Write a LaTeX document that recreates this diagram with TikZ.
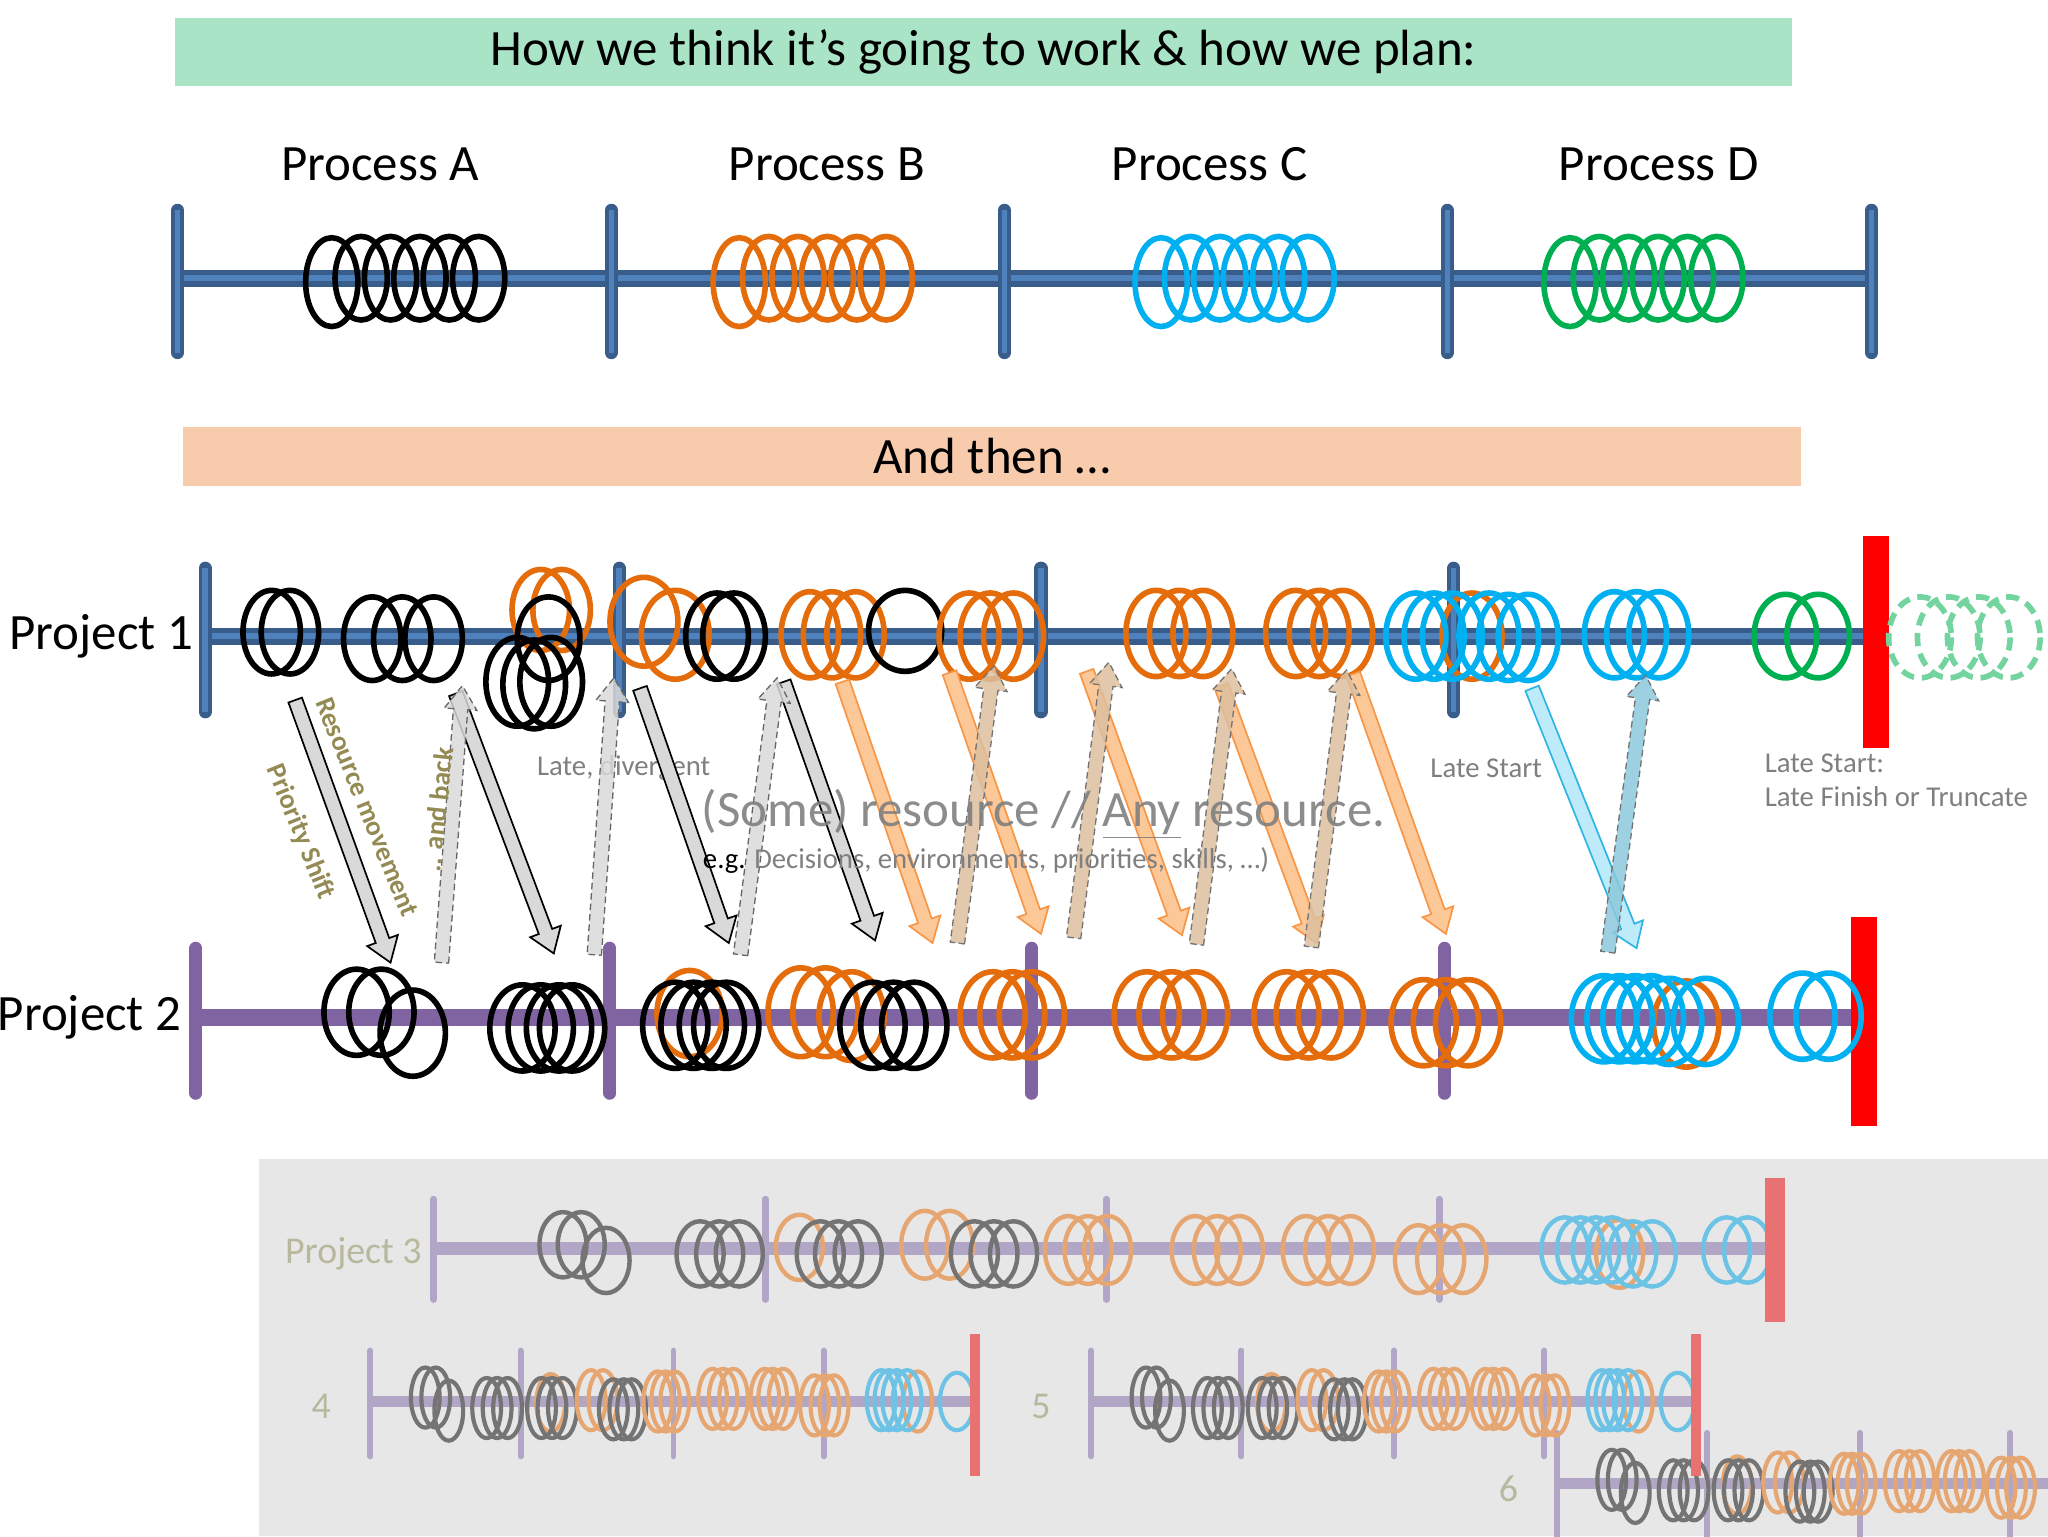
\documentclass[tikz,border=0pt]{standalone}
\usepackage{fontspec}
\setmainfont{Carlito}
\usepackage{tikz}
\usetikzlibrary{calc}
\definecolor{verdetitolo}{HTML}{A9E4C6}
\definecolor{pesca}{HTML}{F8CBAD}
\definecolor{bluasse}{HTML}{4F81BD}
\definecolor{bluscuro}{HTML}{385D8A}
\definecolor{viola}{HTML}{8064A2}
\definecolor{arancio}{HTML}{E46C0A}
\definecolor{azzurro}{HTML}{00B0F0}
\definecolor{verde}{HTML}{00B050}
\definecolor{rosso}{HTML}{FF0000}
\definecolor{oliva}{HTML}{948A54}
\definecolor{grigiotesto}{HTML}{7F7F7F}
\definecolor{grigiofreccia}{HTML}{D9D9D9}
\definecolor{aranciochiaro}{HTML}{FDC898}
\definecolor{aranciobordo}{HTML}{F79646}
\definecolor{sabbia}{HTML}{DDBF9F}
\definecolor{celeste}{HTML}{BEEBFA}
\definecolor{celestebordo}{HTML}{2FB5E5}
\definecolor{celestescuro}{HTML}{8CC8DC}
\definecolor{pannello}{HTML}{E8E7E8}
\definecolor{grigioanello}{HTML}{747474}
\definecolor{aranciosbiadito}{HTML}{E6A672}
\definecolor{azzurrosbiadito}{HTML}{6CC3E6}
\definecolor{violasbiadito}{HTML}{B1A6C6}
\definecolor{rossosbiadito}{HTML}{E87272}
\definecolor{testosbiadito}{HTML}{B7B89D}
\tikzset{
	% fascia colorata con titolo
	fascia/.style={inner sep=0pt, font=\fontsize{39}{46}\selectfont},
	% testi
	testo/.style={inner sep=0pt, font=\fontsize{39}{46}\selectfont},
	nota/.style={inner sep=0pt, text=grigiotesto, font=\fontsize{22}{26}\selectfont},
	etichetta/.style={inner sep=0pt, text=oliva, font=\bfseries\fontsize{21}{25}\selectfont},
	sbiadito/.style={inner sep=0pt, text=testosbiadito, font=\fontsize{29}{34}\selectfont},
	% assi dei progetti
	asse/.style={line width=13pt, bluscuro},
	assein/.style={line width=5pt, bluasse},
	tacca/.style={line width=10pt, bluscuro, line cap=round},
	taccain/.style={line width=4pt, bluasse},
	asseviola/.style={line width=13pt, viola},
	taccaviola/.style={line width=10pt, viola, line cap=round},
	fine/.style={line width=20pt, rosso},
	lineasbiadita/.style={line width=10pt, violasbiadito},
	taccasbiadita/.style={line width=5pt, violasbiadito, line cap=round},
	finesbiadita/.style={line width=15pt, rossosbiadito},
	lineamini/.style={line width=8.5pt, violasbiadito},
	taccamini/.style={line width=4.5pt, violasbiadito, line cap=round},
	finemini/.style={line width=8pt, rossosbiadito},
	% anelli (risorse)
	anello/.style={line width=4.3pt},
	anellino/.style={line width=3.4pt},
	micro/.style={line width=3.2pt},
	% frecce di spostamento
	giu/.style={fill=grigiofreccia, draw=black, line width=1.3pt},
	su/.style={fill=grigiofreccia, fill opacity=0.85, draw=black!60, dash pattern=on 5pt off 3pt, line width=1pt},
	giuarancio/.style={fill=aranciochiaro, draw=aranciobordo, line width=1.3pt},
	susabbia/.style={fill=sabbia, fill opacity=0.85, draw=black!55, dash pattern=on 5pt off 3pt, line width=1pt},
	giuceleste/.style={fill=celeste, draw=celestebordo, line width=1.3pt},
	suceleste/.style={fill=celestescuro, fill opacity=0.85, draw=black!55, dash pattern=on 5pt off 3pt, line width=1pt},
}
% gruppo di anelli: stile, raggio x, raggio y, lista x/y
\newcommand{\anelli}[4]{\foreach \ax/\ay in {#4} \draw[#1] (\ax,\ay) ellipse [x radius=#2, y radius=#3];}
% molla di sei anelli del piano
\newcommand{\molla}[2]{%
	\draw[anello, #1] (#2+20,216) ellipse [x radius=20, y radius=34];
	\foreach \k in {1,...,5} \draw[anello, #1] ({#2+20+22.5*\k},213) ellipse [x radius=20, y radius=32];}
% freccia a blocco: stile, coda, punta
\newcommand{\freccia}[3]{%
	\coordinate (fr-a) at (#2);
	\coordinate (fr-b) at (#3);
	\pgfpointdiff{\pgfpointanchor{fr-a}{center}}{\pgfpointanchor{fr-b}{center}}%
	\pgfgetlastxy{\frdx}{\frdy}%
	\pgfmathsetmacro{\frang}{atan2(\frdy,\frdx)}%
	\pgfmathsetmacro{\frlen}{veclen(\frdx,\frdy)}%
	\begin{scope}[shift={(fr-a)}, rotate=\frang]
		\path[#1] (0pt,-5.5pt) -- ({\frlen pt-18pt},-5.5pt) -- ({\frlen pt-18pt},-12.5pt) -- (\frlen pt,0pt)
			-- ({\frlen pt-18pt},12.5pt) -- ({\frlen pt-18pt},5.5pt) -- (0pt,5.5pt) -- cycle;
	\end{scope}}
% progetto in miniatura
\newcommand{\progettino}{%
	\draw[lineamini] (0,0) -- (463,0);
	\foreach \x in {0,115,232,347} \draw[taccamini] (\x,-39) -- (\x,42);
	\anelli{micro, grigioanello}{11}{23}{42/-3, 50/-3, 60/7, 89/5, 97/5, 105/5}
	\anelli{micro, aranciosbiadito}{11}{22}{138/1}
	\anelli{micro, grigioanello}{11}{23}{131/5, 139/5, 147/5}
	\anelli{micro, aranciosbiadito}{11}{23}{169/-1, 178/-1}
	\anelli{micro, grigioanello}{11}{23}{186/6, 194/6, 200/6}
	\anelli{micro, aranciosbiadito}{11}{23}{220/0, 226/0, 233/0, 262/-2, 270/-2, 278/-2, 302/-2, 308/-2, 316/-2, 340/3, 348/3, 355/3, 419/0}
	\anelli{micro, azzurrosbiadito}{11}{23}{391/-1, 397/-1, 403/-1, 411/-1}
	\anelli{micro, azzurrosbiadito}{13}{22}{449/0}
	\draw[finemini] (463,-52) -- (463,57);}

\begin{document}
\begin{tikzpicture}[x=1pt, y=-1pt]
	\useasboundingbox (0,0) rectangle (1568,1176);

	% ---------------- piano ----------------
	\node[fascia, fill=verdetitolo, minimum width=1238, minimum height=52] (titolo) at (753,40)
		{How we think it’s going to work \& how we plan:};
	\node[testo] (procA) at (291,126) {Process A};
	\node[testo] (procB) at (633,126) {Process B};
	\node[testo] (procC) at (926,126) {Process C};
	\node[testo] (procD) at (1270,126) {Process D};

	\draw[asse] (136,213) -- (1433,213);
	\draw[assein] (136,213) -- (1433,213);
	\foreach \x in {136,468,769,1108,1433} {
		\draw[tacca] (\x,161) -- (\x,270);
		\draw[taccain] (\x,161) -- (\x,270);
	}
	\molla{black}{234}
	\molla{arancio}{546}
	\molla{azzurro}{869}
	\molla{verde}{1182}

	% ---------------- e poi ----------------
	\node[fascia, fill=pesca, minimum width=1239, minimum height=45] (poi) at (759.5,349.5) {And then …};

	% ---------------- progetto 1 ----------------
	\node[testo, anchor=east] (prog1) at (148,487) {Project 1};
	\draw[asse] (157,487) -- (1436,487);
	\draw[assein] (157,487) -- (1436,487);
	\foreach \x in {157,474,797,1113} {
		\draw[tacca] (\x,435) -- (\x,545);
		\draw[taccain] (\x,435) -- (\x,545);
	}
	\draw[fine] (1436,410) -- (1436,573);
	\anelli{anello, black}{22}{32}{208/484, 222/484, 285/489, 308/489, 332/489}
	\anelli{anello, arancio}{22}{31}{414/467, 430/467}
	\anelli{anello, black}{24}{32}{420/489}
	\anelli{anello, black}{24}{34}{396/522, 409/524, 422/522}
	\anelli{anello, arancio}{26}{34}{493/476, 517/486}
	\anelli{anello, black}{24}{33}{549/487, 562/487}
	\anelli{anello, arancio}{22}{33}{620/486, 637/486, 655/486}
	\anelli{anello, black}{28}{31}{693/483}
	\anelli{anello, arancio}{23}{33}{742/487, 758/487, 776/487, 885/485, 903/485, 921/485, 992/485, 1010/485, 1028/485, 1127/487}
	\anelli{anello, azzurro}{23}{33}{1084/487, 1098/487, 1112/487, 1140/487, 1155/488, 1170/488, 1236/486, 1253/486, 1270/486}
	\anelli{anello, verde}{24}{32}{1367/487, 1392/487}
	\anelli{anello, verde!55, dash pattern=on 10pt off 6pt}{24}{31}{1470/488, 1492/488, 1515/488, 1538/488}

	% ---------------- progetto 2 ----------------
	\node[testo, anchor=east] (prog2) at (139,779) {Project 2};
	\draw[asseviola] (150,779) -- (1427,779);
	\foreach \x in {150,467,790,1106}
		\draw[taccaviola] (\x,726) -- (\x,837);
	\draw[fine] (1427,702) -- (1427,862);
	\anelli{anello, black}{25}{33}{273/775, 292/775, 316/791, 400/787, 414/787, 428/787, 438/787}
	\anelli{anello, arancio}{25}{33}{528/776}
	\anelli{anello, black}{25}{33}{517/785, 531/785, 545/785, 556/785}
	\anelli{anello, arancio}{25}{34}{613/775, 632/775, 652/778}
	\anelli{anello, black}{25}{33}{668/785, 684/785, 700/785}
	\anelli{anello, arancio}{25}{33}{760/777, 775/777, 790/777, 878/777, 897/777, 915/777, 985/777, 1002/777, 1019/777, 1090/783, 1107/783, 1124/783, 1291/784}
	\anelli{anello, azzurro}{25}{33}{1228/780, 1240/780, 1252/780, 1264/780, 1278/782, 1306/782, 1380/778, 1400/778}

	% ---------------- testi sulle frecce ----------------
	\node[nota, anchor=west] (tardi) at (411,588) {Late, divergent};
	\node[nota, anchor=west] (inizio) at (1095,588) {Late Start};
	\node[nota, anchor=west] (inizio2) at (1351,584) {Late Start:};
	\node[nota, anchor=west] (troncato) at (1351,610) {Late Finish or Truncate};

	% ---------------- frecce ----------------
	\freccia{giu}{226,536}{299,737}
	\freccia{giu}{349,531}{424,730}
	\freccia{giu}{490,527}{558,722}
	\freccia{giu}{600,522}{670,720}
	\freccia{su}{338,737}{354,525}
	\freccia{su}{455,731}{470,519}
	\freccia{su}{567,731}{595,519}
	\freccia{giuarancio}{645,522}{714,722}
	\freccia{giuarancio}{727,515}{797,715}
	\freccia{giuarancio}{832,514}{905,716}
	\freccia{giuarancio}{935,525}{1008,722}
	\freccia{giuarancio}{1036,516}{1107,715}
	\freccia{susabbia}{733,722}{761,510}
	\freccia{susabbia}{822,718}{849,507}
	\freccia{susabbia}{916,723}{943,512}
	\freccia{susabbia}{1004,725}{1031,513}
	\freccia{giuceleste}{1173,527}{1253,726}
	\freccia{suceleste}{1231,729}{1260,517}

	\node[etichetta, rotate=-68] (movimento) at (281,618) {Resource movement};
	\node[etichetta, rotate=-68] (priorita) at (230,637) {Priority Shift};
	\node[etichetta, rotate=84] (ritorno) at (335,620) {.. and back};
	\node[testo, anchor=west, text=grigiotesto, text opacity=0.9] (risorsa) at (537,623)
		{(Some) resource // \underline{Any} resource.};
	\node[nota, anchor=west] (esempio) at (538,659)
		{{\color{black}e.g.} Decisions, environments, priorities, skills, …)};

	% ---------------- altri progetti ----------------
	\fill[pannello] (198,887) rectangle (1568,1176);
	\begin{scope}
		\clip (198,887) rectangle (1568,1176);
		\node[sbiadito, anchor=east] (prog3) at (323,960) {Project 3};
		\draw[lineasbiadita] (332,956) -- (1359,956);
		\foreach \x in {332,586,847,1102}
			\draw[taccasbiadita] (\x,918) -- (\x,995);
		\anelli{anellino, grigioanello}{18}{25}{431/953, 445/953, 464/965, 536/960, 551/960, 566/960}
		\anelli{anellino, aranciosbiadito}{18}{25}{612/955}
		\anelli{anellino, grigioanello}{18}{25}{628/960, 642/960, 657/960}
		\anelli{anellino, aranciosbiadito}{18}{26}{708/953, 727/953}
		\anelli{anellino, grigioanello}{18}{25}{746/960, 761/960, 776/960}
		\anelli{anellino, aranciosbiadito}{18}{26}{818/957, 833/957, 848/957, 915/957, 932/957, 949/957, 1000/957, 1017/957, 1034/957, 1086/964, 1103/964, 1120/964, 1240/960}
		\anelli{anellino, azzurrosbiadito}{18}{25}{1198/957, 1210/957, 1222/957, 1234/957, 1250/960, 1265/960, 1322/957, 1338/957}
		\draw[finesbiadita] (1359,902) -- (1359,1012);

		\node[sbiadito] (prog4) at (246,1077) {4};
		\node[sbiadito] (prog5) at (797,1077) {5};
		\node[sbiadito] (prog6) at (1155,1140) {6};
		\begin{scope}[shift={(1192,1136)}]
			\progettino
		\end{scope}
		\begin{scope}[shift={(283.6,1073)}]
			\progettino
		\end{scope}
		\begin{scope}[shift={(835.4,1073)}]
			\progettino
		\end{scope}
	\end{scope}
\end{tikzpicture}
\end{document}
